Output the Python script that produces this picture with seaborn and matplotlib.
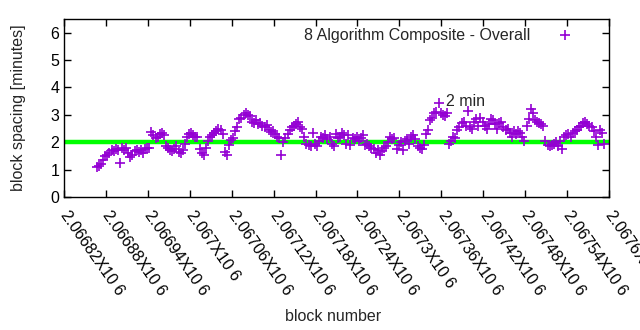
import numpy as np
import pandas as pd
import matplotlib
matplotlib.use("Agg")
import matplotlib.pyplot as plt
import seaborn as sns

# ---- data ----
first_block = 2066867
block_step = 3
spacing = [
    1.08, 1.15, 1.22, 1.35, 1.50,
    1.55, 1.62, 1.70, 1.68, 1.75,
    1.72, 1.25, 1.78, 1.72, 1.80,
    1.60, 1.45, 1.52, 1.68, 1.72,
    1.65, 1.70, 1.62, 1.75, 1.80,
    1.78, 2.38, 2.25, 2.15, 2.20,
    2.30, 2.35, 2.28, 1.85, 1.80,
    1.72, 1.68, 1.75, 1.85, 1.65,
    1.62, 1.70, 1.95, 2.20, 2.30,
    2.35, 2.25, 2.18, 2.20, 1.75,
    1.60, 1.52, 1.80, 2.05, 2.20,
    2.25, 2.35, 2.42, 2.50, 2.45,
    2.30, 1.65, 1.55, 1.90, 2.08,
    2.15, 2.40, 2.55, 2.85, 2.90,
    3.00, 3.08, 3.00, 2.95, 2.75,
    2.70, 2.80, 2.65, 2.72, 2.60,
    2.55, 2.62, 2.45, 2.38, 2.40,
    2.30, 2.20, 2.15, 1.55, 2.00,
    2.15, 2.30, 2.45, 2.55, 2.60,
    2.68, 2.75, 2.55, 2.50, 2.20,
    1.95, 1.90, 1.85, 2.35, 1.95,
    1.85, 2.05, 2.20, 2.15, 2.25,
    2.10, 2.20, 1.95, 1.85, 2.30,
    2.15, 2.20, 2.35, 2.25, 1.95,
    2.28, 1.90, 2.15, 2.10, 2.20,
    2.05, 2.15, 2.25, 1.90, 1.95,
    1.85, 1.80, 1.75, 1.60, 1.72,
    1.55, 1.68, 1.80, 1.85, 2.00,
    2.20, 2.10, 2.15, 1.75, 1.90,
    2.00, 1.70, 2.05, 2.10, 1.95,
    2.20, 2.25, 2.10, 1.85, 1.80,
    1.75, 1.90, 2.30, 2.45, 2.80,
    2.90, 3.05, 3.10, 3.45, 3.05,
    3.00, 2.95, 3.05, 1.95, 2.05,
    2.20, 2.15, 2.45, 2.55, 2.70,
    2.75, 2.60, 3.15, 2.55, 2.50,
    2.75, 2.85, 2.60, 2.90, 2.75,
    2.60, 2.50, 2.65, 2.85, 2.80,
    2.65, 2.50, 2.70, 2.75, 2.55,
    2.45, 2.50, 2.35, 2.20, 2.40,
    2.30, 2.40, 2.35, 2.20, 2.05,
    2.60, 2.85, 3.20, 3.05, 2.80,
    2.75, 2.70, 2.65, 2.60, 2.05,
    1.90, 1.85, 1.90, 1.95, 2.00,
    1.85, 2.05, 1.75, 2.20, 2.25,
    2.30, 2.20, 2.35, 2.40, 2.45,
    2.55, 2.60, 2.70, 2.75, 2.65,
    2.60, 2.55, 2.40, 2.20, 1.90,
    2.45, 2.35, 1.95,
]
blocks = first_block + block_step * np.arange(len(spacing))

target_minutes = 2.0
x_ticks = [2066820, 2066880, 2066940, 2067000, 2067060, 2067120, 2067180,
           2067240, 2067300, 2067360, 2067420, 2067480, 2067540, 2067600]
x_tick_labels = ["2.06682X10 6", "2.06688X10 6", "2.06694X10 6", "2.067X10 6",
                 "2.06706X10 6", "2.06712X10 6", "2.06718X10 6", "2.06724X10 6",
                 "2.0673X10 6", "2.06736X10 6", "2.06742X10 6", "2.06748X10 6",
                 "2.06754X10 6", "2.0676X10 6"]
y_ticks = [0, 1, 2, 3, 4, 5, 6]
series_name = "8 Algorithm Composite - Overall"
annot_text = "2 min"
annot_x = 2067367
annot_y = 3.5

df = pd.DataFrame({"block": blocks, "spacing": spacing})

# ---- style ----
sns.set_style("ticks")
plt.rcParams["font.family"] = ["Liberation Sans", "DejaVu Sans"]
FS = 11.5
plt.rcParams["font.size"] = FS

fig = plt.figure(figsize=(6.4, 3.3), dpi=100)
ax = fig.add_axes([64 / 640, 1 - 197 / 330, (609 - 64) / 640, (197 - 19) / 330])

ax.axhline(target_minutes, color="#00ff00", linewidth=3.2, zorder=1)
sns.scatterplot(data=df, x="block", y="spacing", marker="+", s=50,
                color="#9400d3", linewidth=1.2, ax=ax, zorder=2,
                label=series_name)

ax.set_xlim(x_ticks[0], x_ticks[-1])
ax.set_ylim(0, 6.5)
ax.set_xticks(x_ticks)
ax.set_xticklabels(x_tick_labels, rotation=-55, ha="left", va="center",
                   rotation_mode="anchor")
ax.set_yticks(y_ticks)
ax.tick_params(direction="in", length=5, width=1, top=True, right=True,
               colors="black", labelsize=FS)
ax.tick_params(axis="x", pad=11)
for sp in ax.spines.values():
    sp.set_linewidth(1.0)
    sp.set_color("black")

ax.set_xlabel("block number", fontsize=FS)
ax.set_ylabel("block spacing [minutes]", fontsize=FS)
ax.xaxis.set_label_coords(0.494, -0.63)
ax.yaxis.set_label_coords(-0.07, 0.5)

ax.text(annot_x, annot_y, annot_text, ha="left", va="center", fontsize=FS)

leg = ax.legend(loc="upper right", frameon=False, markerfirst=False,
                handletextpad=1.2, borderaxespad=0.3, fontsize=FS,
                bbox_to_anchor=(0.97, 1.015))

fig.savefig("out.png", dpi=100)
